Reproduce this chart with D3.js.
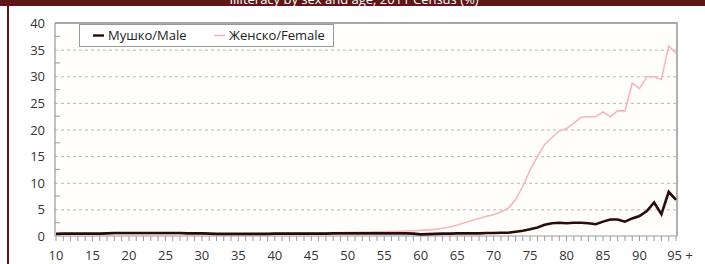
<!DOCTYPE html>
<html lang="en">
<head>
<meta charset="UTF-8">
<title>Illiteracy by sex and age</title>
<script src="https://d3js.org/d3.v7.min.js"></script>
<style>
    body, html { margin: 0; padding: 0; background: #fff; }
    svg { display: block; font-family: "Open Sans", "DejaVu Sans", sans-serif; }
    .tick-label { fill: #333; font-size: 13px; }
    .grid { stroke: #b8b8b8; stroke-dasharray: 3,3; stroke-width: 1; }
</style>
</head>
<body>
<div id="chart"></div>
<script>
// ages 10 .. 95+
var ages = d3.range(10, 96);
var xLabels = ["10","15","20","25","30","35","40","45","50","55","60","65","70","75","80","85","90","95 +"];
var yTicks = [0, 5, 10, 15, 20, 25, 30, 35, 40];

var male = [
    0.40, 0.45, 0.45, 0.45, 0.45, 0.45, 0.45, 0.50, 0.55, 0.55, // 10-19
    0.55, 0.55, 0.55, 0.55, 0.55, 0.55, 0.55, 0.55, 0.50, 0.50, // 20-29
    0.50, 0.45, 0.40, 0.40, 0.40, 0.40, 0.40, 0.40, 0.40, 0.40, // 30-39
    0.45, 0.45, 0.45, 0.45, 0.45, 0.45, 0.45, 0.45, 0.50, 0.50, // 40-49
    0.50, 0.50, 0.50, 0.50, 0.50, 0.50, 0.50, 0.50, 0.50, 0.45, // 50-59
    0.30, 0.35, 0.40, 0.45, 0.45, 0.50, 0.50, 0.50, 0.50, 0.55, // 60-69
    0.55, 0.60, 0.60, 0.80, 1.00, 1.25, 1.60, 2.10, 2.40, 2.50, // 70-79
    2.40, 2.50, 2.50, 2.40, 2.20, 2.70, 3.10, 3.10, 2.70, 3.30, // 80-89
    3.75, 4.70, 6.30, 4.10, 8.30, 6.80                          // 90-95+
];

var female = [
    0.40, 0.40, 0.40, 0.40, 0.40, 0.40, 0.40, 0.45, 0.45, 0.45, // 10-19
    0.45, 0.45, 0.45, 0.45, 0.45, 0.45, 0.45, 0.45, 0.45, 0.45, // 20-29
    0.45, 0.45, 0.40, 0.40, 0.40, 0.40, 0.40, 0.45, 0.45, 0.45, // 30-39
    0.50, 0.50, 0.50, 0.50, 0.55, 0.55, 0.60, 0.60, 0.65, 0.65, // 40-49
    0.70, 0.70, 0.75, 0.75, 0.80, 0.80, 0.85, 0.90, 0.95, 1.00, // 50-59
    1.05, 1.15, 1.25, 1.45, 1.70, 2.05, 2.50, 2.90, 3.30, 3.70, // 60-69
    4.00, 4.50, 5.20, 6.80, 9.30, 12.4, 14.9, 17.2, 18.5, 19.7, // 70-79
    20.2, 21.2, 22.3, 22.4, 22.4, 23.3, 22.4, 23.5, 23.5, 28.7, // 80-89
    27.7, 29.9, 29.9, 29.4, 35.7, 34.3                          // 90-95+
];

var W = 705, H = 264;
var plot = { left: 55, right: 677, top: 23, bottom: 236 };

var svg = d3.select("#chart").append("svg")
    .attr("width", W)
    .attr("height", H);

// header bar + left frame
svg.append("rect").attr("x", 0).attr("y", 0).attr("width", W).attr("height", 6).attr("fill", "#5e1619");
svg.append("rect").attr("x", 7).attr("y", 0).attr("width", 2).attr("height", H).attr("fill", "#5e1619");
svg.append("text")
    .attr("x", 354).attr("y", 4)
    .attr("text-anchor", "middle")
    .attr("fill", "#fff")
    .style("font-size", "13px")
    .text("Illiteracy by sex and age, 2011 Census (%)");

var x = d3.scalePoint().domain(ages).range([56, 676]);
var y = d3.scaleLinear().domain([0, 40]).range([plot.bottom, plot.top]);

// plot background and frame
svg.append("rect")
    .attr("x", plot.left).attr("y", plot.top)
    .attr("width", plot.right - plot.left).attr("height", plot.bottom - plot.top)
    .attr("fill", "#fffefb");
svg.append("path")
    .attr("d", "M" + plot.left + "," + plot.top + "H" + plot.right + "V" + plot.bottom)
    .attr("fill", "none").attr("stroke", "#a8a8a8").attr("stroke-width", 1.8);

// gridlines
svg.selectAll("line.grid")
    .data(yTicks.filter(function(d) { return d > 0 && d < 40; }))
    .enter().append("line")
    .attr("class", "grid")
    .attr("x1", plot.left).attr("x2", plot.right)
    .attr("y1", function(d) { return y(d) + 0.5; })
    .attr("y2", function(d) { return y(d) + 0.5; });

// y axis
svg.append("line")
    .attr("x1", plot.left).attr("x2", plot.left)
    .attr("y1", plot.top).attr("y2", plot.bottom)
    .attr("stroke", "#999").attr("stroke-width", 1.2);
svg.selectAll("line.yminor")
    .data(d3.range(2.5, 40, 5))
    .enter().append("line")
    .attr("x1", plot.left).attr("x2", plot.left + 5)
    .attr("y1", function(d) { return y(d); })
    .attr("y2", function(d) { return y(d); })
    .attr("stroke", "#999");
svg.selectAll("text.ylab")
    .data(yTicks)
    .enter().append("text")
    .attr("class", "tick-label")
    .attr("x", 45)
    .attr("y", function(d) { return y(d) + 5; })
    .attr("text-anchor", "end")
    .text(function(d) { return d; });

// x axis
svg.append("line")
    .attr("x1", plot.left).attr("x2", plot.right)
    .attr("y1", plot.bottom).attr("y2", plot.bottom)
    .attr("stroke", "#999").attr("stroke-width", 1.2);
svg.selectAll("line.xtick")
    .data(ages)
    .enter().append("line")
    .attr("x1", function(d) { return x(d); })
    .attr("x2", function(d) { return x(d); })
    .attr("y1", plot.bottom).attr("y2", plot.bottom + 5)
    .attr("stroke", "#999");
svg.selectAll("text.xlab")
    .data(xLabels)
    .enter().append("text")
    .attr("class", "tick-label")
    .attr("x", function(d, i) { return x(10 + i * 5) + (i === xLabels.length - 1 ? 4 : 0); })
    .attr("y", 260)
    .attr("text-anchor", "middle")
    .text(function(d) { return d; });

// lines
var line = d3.line()
    .x(function(d, i) { return x(ages[i]); })
    .y(function(d) { return y(d); });

svg.append("path")
    .datum(female)
    .attr("d", line)
    .attr("fill", "none")
    .attr("stroke", "#f5b8b8")
    .attr("stroke-width", 1.6);

svg.append("path")
    .datum(male)
    .attr("d", line)
    .attr("fill", "none")
    .attr("stroke", "#2b0a0c")
    .attr("stroke-width", 2.6);

// legend
var legend = svg.append("g").attr("transform", "translate(79,24)");
legend.append("rect")
    .attr("x", 0.5).attr("y", 0.5)
    .attr("width", 254).attr("height", 22)
    .attr("fill", "#fff").attr("stroke", "#9a9a9a");
var items = [
    { name: "Мушко/Male", color: "#2b0a0c", w: 2.4, x: 14 },
    { name: "Женско/Female", color: "#f5b8b8", w: 1.6, x: 135 }
];
items.forEach(function(it) {
    legend.append("line")
        .attr("x1", it.x).attr("x2", it.x + 11)
        .attr("y1", 11.5).attr("y2", 11.5)
        .attr("stroke", it.color).attr("stroke-width", it.w);
    legend.append("text")
        .attr("x", it.x + 15).attr("y", 16)
        .attr("fill", "#222")
        .style("font-size", "13px")
        .text(it.name);
});
</script>
</body>
</html>
